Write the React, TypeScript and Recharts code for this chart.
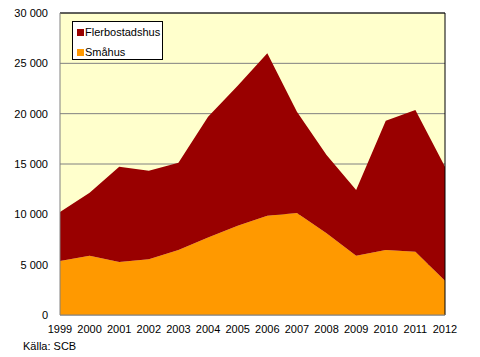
import React from 'react';
import { AreaChart, Area, XAxis, YAxis, CartesianGrid, ReferenceLine, Legend } from 'recharts';

const years = ['1999','2000','2001','2002','2003','2004','2005','2006','2007','2008','2009','2010','2011','2012'];
const smahus = [5360, 5890, 5260, 5530, 6450, 7710, 8870, 9860, 10130, 8110, 5890, 6450, 6290, 3410];
const flerbostadshus = [4870, 6260, 9470, 8800, 8670, 11990, 13910, 16130, 10060, 7780, 6520, 12850, 14070, 11320];
const yTicks = [0, 5000, 10000, 15000, 20000, 25000, 30000];

const data = years.map((y, i) => ({ year: y, Småhus: smahus[i], Flerbostadshus: flerbostadshus[i] }));

const FONT = '"Liberation Sans", Arial, sans-serif';
const fmt = (v: number) => (v >= 1000 ? `${Math.floor(v / 1000)} ${String(v % 1000).padStart(3, '0')}` : String(v));

const LegendBox = () => (
  <div style={{ position: 'absolute', left: 72, top: 21, width: 91, height: 39, boxSizing: 'border-box', border: '1px solid #000', background: '#fff', fontFamily: FONT, fontSize: 11, color: '#000' }}>
    <div style={{ position: 'absolute', left: 4, top: 4, display: 'flex', alignItems: 'center' }}>
      <span style={{ width: 7, height: 7, background: '#990000', display: 'inline-block', marginRight: 1 }} />
      <span>Flerbostadshus</span>
    </div>
    <div style={{ position: 'absolute', left: 4, top: 24, display: 'flex', alignItems: 'center' }}>
      <span style={{ width: 7, height: 7, background: '#FF9900', display: 'inline-block', marginRight: 1 }} />
      <span>Småhus</span>
    </div>
  </div>
);

export default function App() {
  return (
    <div style={{ position: 'absolute', left: 0, top: 0, width: 480, height: 357, background: '#fff' }}>
      <AreaChart width={480} height={357} data={data} margin={{ top: 13, right: 35, left: 0, bottom: 22 }}>
        <CartesianGrid vertical={false} horizontal={true} stroke="#808080" fill="#FFFFCC" />
        <XAxis dataKey="year" axisLine={{ stroke: '#808080' }} tickLine={false} tick={{ fill: '#000', fontSize: 11, fontFamily: FONT }} interval={0} height={20} tickMargin={4} />
        <YAxis domain={[0, 30000]} ticks={yTicks} tickFormatter={fmt} width={60} axisLine={{ stroke: '#808080' }} tickLine={false} tick={{ fill: '#000', fontSize: 11, fontFamily: FONT }} tickMargin={6} />
        <Area type="linear" dataKey="Småhus" stackId="a" stroke="none" fill="#FF9900" fillOpacity={1} isAnimationActive={false} />
        <Area type="linear" dataKey="Flerbostadshus" stackId="a" stroke="none" fill="#990000" fillOpacity={1} isAnimationActive={false} />
        <ReferenceLine y={30000} stroke="#000" strokeWidth={1} />
        <ReferenceLine x="2012" stroke="#000" strokeWidth={1} />
        <Legend content={() => null} />
      </AreaChart>
      <LegendBox />
      <div style={{ position: 'absolute', left: 23, top: 340, fontFamily: FONT, fontSize: 11, color: '#000' }}>Källa: SCB</div>
    </div>
  );
}
